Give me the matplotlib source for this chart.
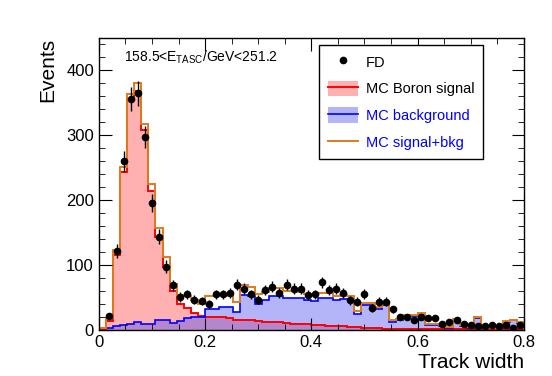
import numpy as np
import matplotlib
matplotlib.use("Agg")
import matplotlib.pyplot as plt
from matplotlib.lines import Line2D
from matplotlib.patches import Patch
from matplotlib.legend_handler import HandlerTuple
from matplotlib.ticker import MultipleLocator

plt.rcParams["font.family"] = ["Liberation Sans", "DejaVu Sans"]
plt.rcParams["mathtext.fontset"] = "custom"
plt.rcParams["mathtext.rm"] = "Liberation Sans"

# 60 bins of track width between 0 and 0.8
bin_edges = np.linspace(0.0, 0.8, 61)

# MC Boron signal
signal = [0.5, 14, 116, 243, 355, 368, 309, 215, 143, 97,
          60, 40, 34, 26.5, 21.5, 20, 20, 20.5, 18, 16,
          15.5, 15, 14.5, 13, 12.5, 12, 10.5, 10, 9.5, 9,
          8.5, 8, 7, 6.5, 6, 5, 4.5, 4, 3.5, 3,
          2.5, 2.5, 2.5, 2, 2, 2, 2, 1.5, 1.5, 1.5,
          1.5, 1.5, 1, 1, 1, 1, 1, 1, 1, 1]

# MC background
background = [3, 4, 7, 8, 9, 12, 9, 10, 15, 15,
              11, 14, 18, 19.5, 19.5, 32, 32, 35, 35, 28,
              54, 52, 41, 46, 53, 53, 50, 50, 49, 47,
              45, 49, 50, 46, 48, 48, 25, 38, 38, 32,
              38, 13, 15, 22, 21, 24, 8, 8.5, 6, 4,
              15, 6, 4, 19, 4, 3, 4, 13, 15, 11]

# flight data counts
fd_counts = [0, 22, 122, 260, 356, 365, 297, 196, 144, 98,
             69, 51, 55, 47, 45, 40, 55, 55, 57, 70,
             64, 55, 47, 62, 67, 57, 70, 64, 64, 54,
             55, 74, 62, 64, 57, 46, 44, 56, 34, 44,
             44, 32, 20, 20, 16, 20, 18, 18, 10, 13,
             16, 9, 8, 6, 6, 8, 6, 8, 4, 8]

energy_label = r"158.5<E$_{\mathrm{TASC}}$/GeV<251.2"

sig = np.array(signal, dtype=float)
bkg = np.array(background, dtype=float)
total = sig + bkg
fd = np.array(fd_counts, dtype=float)
centers = 0.5 * (bin_edges[:-1] + bin_edges[1:])

fig = plt.figure(figsize=(5.52, 3.76), dpi=100)
ax = fig.add_axes([0.179, 0.122, 0.77, 0.777])

red_fill = "#ffb0b0"
blue_fill = (0.3, 0.3, 0.95, 0.42)
orange = "#e07b1a"

ax.stairs(sig, bin_edges, fill=True, color=red_fill, lw=0)
ax.stairs(bkg, bin_edges, fill=True, color=blue_fill, lw=0)
ax.stairs(sig, bin_edges, color="red", lw=1.4)
ax.stairs(bkg, bin_edges, color="blue", lw=1.2)
ax.stairs(total, bin_edges, color=orange, lw=1.4)

mask = fd > 0
ax.errorbar(centers[mask], fd[mask], yerr=np.sqrt(fd[mask]), fmt="o",
            color="black", ms=4.5, elinewidth=1.0, capsize=0, zorder=5)

ax.set_xlim(0, 0.8)
ax.set_ylim(0, 450)
ax.xaxis.set_major_locator(MultipleLocator(0.2))
ax.xaxis.set_minor_locator(MultipleLocator(0.05))
ax.yaxis.set_major_locator(MultipleLocator(100))
ax.yaxis.set_minor_locator(MultipleLocator(20))
ax.tick_params(which="both", direction="in", top=True, right=True, labelsize=12)
ax.tick_params(which="major", length=9)
ax.tick_params(which="minor", length=4.5)
ax.set_xticks([0, 0.2, 0.4, 0.6, 0.8])
ax.set_xticklabels(["0", "0.2", "0.4", "0.6", "0.8"])
for s in ax.spines.values():
    s.set_linewidth(1.0)

ax.set_xlabel("Track width", fontsize=15, loc="right", labelpad=2)
ax.set_ylabel("Events", fontsize=15, loc="top", labelpad=6)

ax.text(0.06, 0.935, energy_label, transform=ax.transAxes, fontsize=10,
        ha="left", va="center")

# legend
h_fd = Line2D([], [], ls="none", marker="o", color="black", ms=4.5)
h_sig = (Patch(facecolor=red_fill, edgecolor="none"), Line2D([], [], color="red", lw=1.4))
h_bkg = (Patch(facecolor=blue_fill, edgecolor="none"), Line2D([], [], color="blue", lw=1.2))
h_tot = Line2D([], [], color=orange, lw=1.4)
leg = ax.legend([h_fd, h_sig, h_bkg, h_tot],
                ["FD", "MC Boron signal", "MC background", "MC signal+bkg"],
                handler_map={tuple: HandlerTuple(ndivide=1)},
                loc="upper left", bbox_to_anchor=(0.518, 0.976),
                fontsize=10.5, frameon=True, fancybox=False,
                edgecolor="black", framealpha=1.0, borderpad=0.6,
                labelspacing=0.75, handlelength=2.1, handleheight=1.3,
                handletextpad=0.5, borderaxespad=0)
leg.get_frame().set_linewidth(1.0)
for txt, c in zip(leg.get_texts(), ["black", "black", "blue", "blue"]):
    txt.set_color(c)

fig.savefig("out.png", dpi=100)
